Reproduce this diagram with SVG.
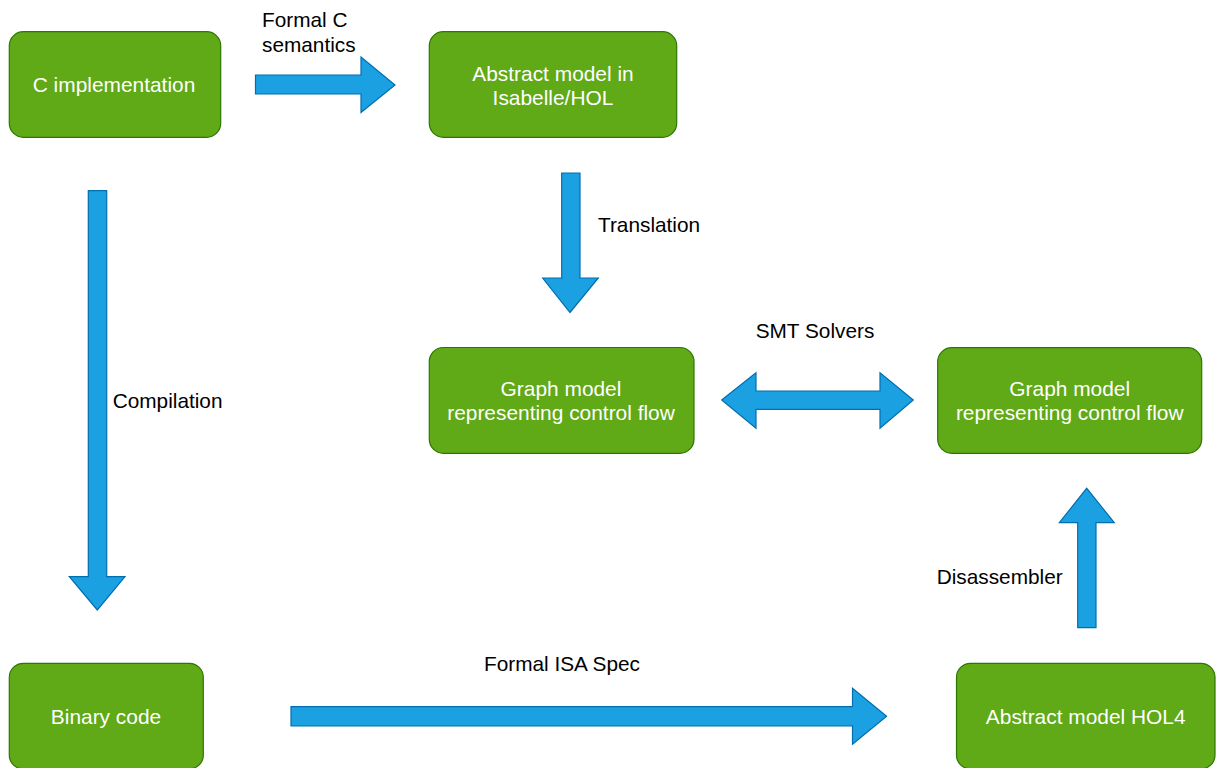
<svg xmlns="http://www.w3.org/2000/svg" width="1217" height="768" viewBox="0 0 1217 768">
<style>
.node rect{fill:#60a917;stroke:#2d7600;stroke-width:1.2}
.node text{fill:#ffffff;font-family:"Liberation Sans",Arial,sans-serif;font-size:20.9px;text-anchor:middle}
.arrow{fill:#1ba1e2;stroke:#006eaf;stroke-width:1.2;stroke-linejoin:miter}
.lbl{fill:#000000;font-family:"Liberation Sans",Arial,sans-serif;font-size:20.8px}
</style>
<rect width="1217" height="768" fill="#ffffff"/>
<g id="connectors">
<polygon class="arrow" points="255.5,75 361,75 361,57 395,85 361,112.5 361,94 255.5,94"/>
<polygon class="arrow" points="561.7,173 580,173 580,278 598.3,278 570,312.5 542.7,278 561.7,278"/>
<polygon class="arrow" points="721.7,400 756,372.7 756,391 880,391 880,372.7 913.3,400 880,428.3 880,409.3 756,409.3 756,428.3"/>
<polygon class="arrow" points="88.3,190.7 106.7,190.7 106.7,576.7 125,576.7 97.3,610 69.3,576.7 88.3,576.7"/>
<polygon class="arrow" points="291,706.7 852.5,706.7 852.5,688.3 886.6,716.3 852.5,744.3 852.5,726 291,726"/>
<polygon class="arrow" points="1077.7,627.7 1077.7,522.7 1059.3,522.7 1086.7,488.3 1114.3,522.7 1096,522.7 1096,627.7"/>
<text class="lbl" x="262" y="27">Formal C</text>
<text class="lbl" x="262" y="52">semantics</text>
<text class="lbl" x="598" y="232">Translation</text>
<text class="lbl" x="815" y="338" text-anchor="middle">SMT Solvers</text>
<text class="lbl" x="112.7" y="408">Compilation</text>
<text class="lbl" x="562" y="671" text-anchor="middle">Formal ISA Spec</text>
<text class="lbl" x="936.7" y="584">Disassembler</text>
</g>
<g id="n1" class="node"><rect x="9.3" y="31.7" width="211.4" height="105.6" rx="14"/><text x="114" y="91.5">C implementation</text></g>
<g id="n2" class="node"><rect x="429.3" y="31.7" width="247.4" height="105.6" rx="14"/><text x="553" y="80.5">Abstract model in</text><text x="553" y="104.5">Isabelle/HOL</text></g>
<g id="n3" class="node"><rect x="429.3" y="347.5" width="264.7" height="105.8" rx="14"/><text x="561" y="396">Graph model</text><text x="561" y="420">representing control flow</text></g>
<g id="n4" class="node"><rect x="937.7" y="347.7" width="264" height="105.6" rx="14"/><text x="1069.7" y="396">Graph model</text><text x="1069.7" y="420">representing control flow</text></g>
<g id="n5" class="node"><rect x="9.3" y="663.3" width="194" height="105.6" rx="14"/><text x="106" y="724">Binary code</text></g>
<g id="n6" class="node"><rect x="956.5" y="663.3" width="258.5" height="105.6" rx="14"/><text x="1085.7" y="724">Abstract model HOL4</text></g>
</svg>
